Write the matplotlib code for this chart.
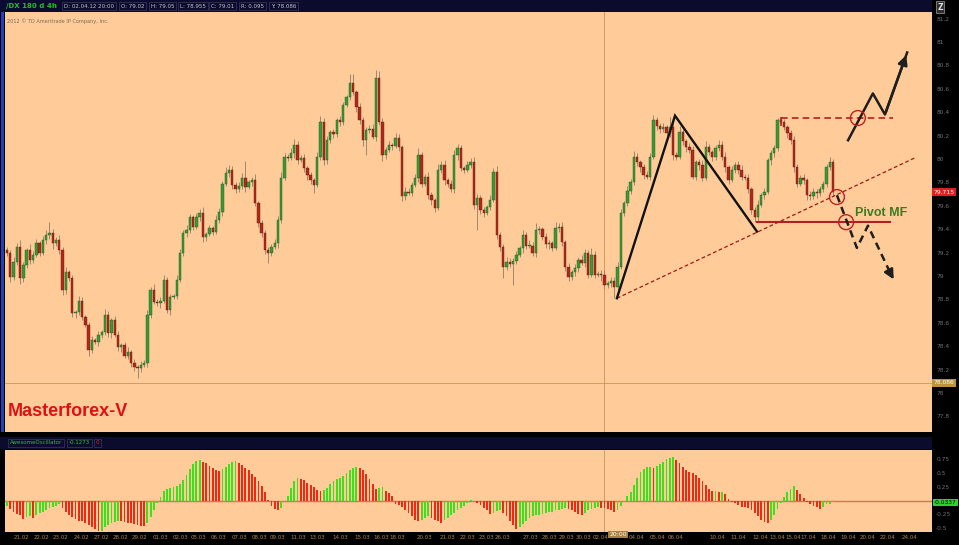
import numpy as np
import matplotlib
matplotlib.use("Agg")
import matplotlib.pyplot as plt
from matplotlib.patches import Rectangle

# ---- /DX 4h candles (open = previous close) ----
open0 = 79.22
closes = [
    79.20, 78.99, 79.12, 79.25, 78.98, 79.09, 79.22, 79.14, 79.18, 79.28,
    79.20, 79.31, 79.35, 79.37, 79.28, 79.31, 79.22, 78.88, 79.03, 78.98,
    78.68, 78.69, 78.79, 78.65, 78.58, 78.37, 78.45, 78.44, 78.50, 78.52,
    78.67, 78.51, 78.62, 78.50, 78.39, 78.41, 78.32, 78.35, 78.26, 78.22,
    78.21, 78.24, 78.26, 78.67, 78.88, 78.78, 78.77, 78.79, 78.97, 78.71,
    78.82, 78.83, 78.97, 79.20, 79.37, 79.39, 79.50, 79.42, 79.50, 79.54,
    79.33, 79.36, 79.41, 79.38, 79.48, 79.55, 79.79, 79.88, 79.91, 79.78,
    79.74, 79.77, 79.84, 79.76, 79.80, 79.82, 79.62, 79.45, 79.37, 79.22,
    79.20, 79.25, 79.28, 79.48, 79.84, 80.02, 80.01, 80.05, 80.12, 79.99,
    80.01, 79.92, 79.86, 79.82, 79.78, 80.02, 80.32, 79.99, 80.16, 80.23,
    80.21, 80.33, 80.32, 80.46, 80.53, 80.65, 80.57, 80.44, 80.33, 80.16,
    80.25, 80.26, 80.19, 80.69, 80.32, 80.03, 80.08, 80.12, 80.11, 80.18,
    80.10, 79.68, 79.72, 79.71, 79.78, 79.84, 80.03, 79.79, 79.85, 79.69,
    79.65, 79.58, 79.91, 79.95, 79.82, 79.79, 79.74, 80.03, 80.09, 79.92,
    79.91, 79.95, 79.97, 79.61, 79.67, 79.56, 79.54, 79.59, 79.65, 79.89,
    79.35, 79.25, 79.08, 79.12, 79.10, 79.13, 79.18, 79.24, 79.35, 79.26,
    79.26, 79.20, 79.39, 79.40, 79.33, 79.27, 79.28, 79.24, 79.41, 79.42,
    79.29, 79.08, 78.99, 79.03, 79.07, 79.14, 79.11, 79.20, 79.01, 79.18,
    79.01, 79.02, 79.01, 78.92, 78.94, 78.96, 78.91, 79.08, 79.54, 79.62,
    79.73, 79.80, 80.02, 79.97, 79.93, 79.86, 79.85, 80.02, 80.33, 80.28,
    80.26, 80.27, 80.22, 80.27, 80.03, 80.02, 80.23, 80.15, 80.10, 80.08,
    79.85, 79.97, 79.95, 79.84, 80.10, 80.06, 80.02, 80.09, 80.12, 80.02,
    79.93, 79.82, 79.91, 79.95, 79.91, 79.85, 79.84, 79.74, 79.56, 79.50,
    79.61, 79.69, 79.72, 79.99, 80.05, 80.09, 80.33, 80.32, 80.27, 80.22,
    80.16, 79.93, 79.79, 79.84, 79.82, 79.69, 79.68, 79.72, 79.71, 79.74,
    79.79, 79.93, 79.97, 79.715]
# wick lengths above / below the body, in 0.01
hi_w = [
    3, 2, 4, 3, 6, 3, 2, 5, 3, 4,   2, 3, 4, 9, 3, 2, 4, 3, 5, 2,
    3, 2, 4, 3, 2, 3, 4, 2, 3, 2,   5, 3, 2, 4, 3, 2, 3, 4, 2, 3,
    2, 3, 2, 4, 3, 5, 2, 3, 4, 2,   3, 2, 4, 3, 2, 5, 3, 2, 4, 3,
    5, 2, 3, 2, 4, 3, 2, 5, 4, 3,   2, 3, 4, 14, 2, 3, 5, 2, 3, 2,
    3, 2, 4, 3, 5, 3, 2, 4, 5, 3,   2, 3, 2, 3, 2, 4, 5, 3, 4, 2,
    3, 2, 4, 3, 2, 8, 8, 2, 4, 3,   2, 3, 4, 7, 6, 3, 2, 3, 2, 4,
    3, 2, 4, 3, 2, 3, 6, 3, 2, 4,   3, 2, 5, 3, 4, 2, 3, 5, 4, 3,
    2, 3, 4, 5, 3, 2, 3, 2, 4, 3,   5, 3, 2, 4, 3, 2, 3, 2, 4, 3,
    5, 3, 6, 3, 2, 4, 3, 2, 5, 3,   4, 2, 3, 2, 3, 2, 4, 3, 2, 6,
    3, 2, 3, 4, 2, 3, 3, 4, 3, 2,   4, 3, 5, 3, 2, 3, 4, 3, 5, 3,
    3, 4, 2, 9, 4, 3, 5, 3, 2, 4,   3, 2, 3, 4, 5, 3, 2, 3, 4, 3,
    4, 2, 3, 2, 3, 4, 2, 3, 2, 3,   4, 2, 3, 2, 3, 3, 2, 3, 2, 2,
    3, 4, 3, 2, 3, 2, 4, 3, 2, 3,   2, 3, 5, 3]
lo_w = [
    3, 4, 2, 3, 5, 3, 2, 4, 3, 2,   3, 2, 4, 3, 5, 2, 3, 4, 3, 2,
    3, 4, 2, 3, 2, 5, 3, 2, 4, 3,   2, 3, 4, 2, 3, 4, 2, 3, 4, 3,
    8, 3, 2, 4, 3, 2, 3, 4, 2, 3,   4, 2, 3, 2, 3, 4, 2, 3, 2, 3,
    4, 3, 2, 3, 2, 3, 4, 2, 3, 4,   3, 2, 3, 4, 2, 3, 2, 3, 4, 3,
    9, 3, 2, 4, 3, 2, 3, 2, 4, 3,   2, 3, 4, 3, 7, 2, 3, 4, 3, 2,
    3, 2, 4, 3, 2, 3, 2, 4, 3, 5,   13, 3, 2, 4, 3, 5, 3, 2, 3, 2,
    3, 4, 3, 2, 3, 2, 4, 3, 2, 3,   4, 3, 2, 3, 4, 3, 2, 3, 4, 2,
    3, 2, 3, 4, 22, 3, 4, 2, 3, 2,  3, 4, 10, 3, 2, 18, 3, 2, 4, 3,
    2, 3, 4, 3, 2, 3, 4, 3, 2, 3,   3, 4, 3, 2, 3, 4, 2, 3, 3, 2,
    3, 2, 5, 3, 2, 3, 10, 3, 2, 3,  2, 3, 2, 3, 4, 3, 2, 3, 2, 3,
    4, 3, 2, 3, 4, 3, 2, 3, 4, 3,   2, 3, 4, 3, 2, 3, 4, 3, 2, 3,
    4, 3, 2, 3, 4, 3, 2, 3, 3, 4,   3, 2, 3, 2, 4, 3, 2, 3, 2, 4,
    3, 4, 3, 2, 3, 4, 3, 2, 4, 3,   2, 3, 2, 3]
# Awesome Oscillator bars
ao = [
    -0.09, -0.15, -0.21, -0.24, -0.27, -0.34, -0.30, -0.29, -0.32, -0.27,
    -0.23, -0.20, -0.17, -0.14, -0.11, -0.09, -0.07, -0.13, -0.20, -0.26,
    -0.30, -0.34, -0.37, -0.38, -0.41, -0.45, -0.49, -0.52, -0.56, -0.55,
    -0.49, -0.45, -0.41, -0.39, -0.37, -0.38, -0.39, -0.40, -0.41, -0.43,
    -0.44, -0.46, -0.47, -0.40, -0.30, -0.18, -0.04, 0.06, 0.17, 0.21,
    0.23, 0.24, 0.26, 0.30, 0.38, 0.47, 0.57, 0.67, 0.73, 0.74,
    0.71, 0.68, 0.64, 0.60, 0.56, 0.54, 0.57, 0.62, 0.67, 0.71,
    0.715, 0.68, 0.65, 0.60, 0.55, 0.49, 0.43, 0.35, 0.27, 0.16,
    0.01, -0.09, -0.15, -0.18, -0.14, -0.03, 0.09, 0.23, 0.35, 0.41,
    0.40, 0.37, 0.32, 0.28, 0.24, 0.19, 0.17, 0.20, 0.23, 0.30,
    0.35, 0.39, 0.42, 0.45, 0.50, 0.55, 0.59, 0.62, 0.60, 0.55,
    0.48, 0.40, 0.30, 0.22, 0.235, 0.245, 0.18, 0.13, 0.085, -0.06,
    -0.085, -0.12, -0.17, -0.23, -0.29, -0.35, -0.38, -0.35, -0.32, -0.29,
    -0.32, -0.35, -0.38, -0.40, -0.35, -0.31, -0.26, -0.22, -0.18, -0.13,
    -0.09, -0.05, 0.01, -0.01, -0.04, -0.085, -0.13, -0.18, -0.24, -0.22,
    -0.19, -0.18, -0.23, -0.29, -0.37, -0.44, -0.52, -0.49, -0.43, -0.37,
    -0.32, -0.29, -0.27, -0.26, -0.24, -0.23, -0.21, -0.20, -0.18, -0.17,
    -0.15, -0.13, -0.15, -0.18, -0.21, -0.24, -0.27, -0.22, -0.18, -0.16,
    -0.14, -0.12, -0.127, -0.13, -0.16, -0.18, -0.20, -0.17, -0.09, -0.03,
    0.09, 0.15, 0.29, 0.41, 0.52, 0.58, 0.61, 0.62, 0.60, 0.64,
    0.67, 0.71, 0.75, 0.78, 0.79, 0.74, 0.69, 0.62, 0.56, 0.52,
    0.50, 0.47, 0.41, 0.35, 0.29, 0.21, 0.17, 0.18, 0.15, 0.16,
    0.12, 0.02, -0.03, -0.05, -0.085, -0.11, -0.12, -0.13, -0.17, -0.23,
    -0.29, -0.35, -0.39, -0.41, -0.35, -0.26, -0.16, -0.05, 0.06, 0.16,
    0.22, 0.26, 0.20, 0.12, 0.05, -0.02, -0.06, -0.09, -0.11, -0.15,
    -0.12, -0.07, -0.06, -0.034]

date_labels = ["21.02", "22.02", "23.02", "24.02", "27.02", "28.02", "29.02", "01.03",
               "02.03", "05.03", "06.03", "07.03", "08.03", "09.03", "11.03", "13.03",
               "14.03", "15.03", "16.03", "18.03", "20.03", "21.03", "22.03", "23.03",
               "26.03", "27.03", "28.03", "29.03", "30.03", "02.04", "04.04", "05.04",
               "06.04", "10.04", "11.04", "12.04", "13.04", "15.04", "17.04", "18.04",
               "19.04", "20.04", "22.04", "24.04"]
date_idx = [4.6, 10.7, 16.5, 22.7, 28.8, 34.9, 40.7, 46.9, 53.0, 58.8, 64.9, 71.1,
            77.2, 83.0, 89.1, 94.9, 102.0, 108.7, 114.7, 119.6, 128.0, 134.8, 141.2,
            146.8, 151.8, 160.2, 166.2, 171.5, 176.7, 181.7, 192.9, 199.3, 204.8,
            217.5, 223.9, 230.6, 235.9, 240.9, 245.3, 251.5, 257.6, 263.7, 269.8, 276.3]

cursor_i = 182.9          # 02.04.12 20:00
last_price = 79.715
prev_close = 78.086
ao_cursor, ao_last = -0.1273, -0.0337

# analyst drawings (candle index, price)
zig_i, zig_p = [186.8, 204.6, 229.7], [78.81, 80.37, 79.38]
trend_i, trend_p = [186.8, 278.1], [78.81, 80.01]
pivot_i, pivot_p = [229.7, 270.4], 79.46
res_i, res_p = [237.1, 271.4], 80.35
circ_i, circ_p = [260.6, 254.2, 257.0], [80.35, 79.675, 79.46]
up_i, up_p = [257.6, 265.2, 268.9, 275.7], [80.16, 80.56, 80.38, 80.91]
dn_i, dn_p = [254.2, 260.3, 263.7, 272.0], [79.69, 79.24, 79.43, 78.95]

# ---- layout helpers (pixels of the 959x545 picture) ----
W, H = 959, 545
def fx(p): return p / W
def fy(p): return 1 - p / H

PEACH = "#ffcc99"; NAVY = "#0b0b2e"; BLACK = "#000000"
GRN, GRN_E = "#3a9a35", "#1d5a1b"
RED, RED_E = "#b02a1a", "#6a1a10"

fig = plt.figure(figsize=(W / 100, H / 100), dpi=100, facecolor=BLACK)

ax = fig.add_axes([fx(5), fy(432), fx(932) - fx(5), fy(12) - fy(432)], facecolor=PEACH)
axo = fig.add_axes([fx(5), fy(532), fx(932) - fx(5), fy(450) - fy(532)], facecolor=PEACH)
xlim = ((5 - 7) / 3.265, (932 - 7) / 3.265)
for a in (ax, axo):
    a.set_xlim(*xlim)
    for s in a.spines.values():
        s.set_visible(False)
ax.set_ylim(77.667, 81.256)
axo.set_ylim(-0.573, 0.923)

# candles
c = np.array(closes)
o = np.r_[open0, c[:-1]]
idx = np.arange(len(c))
hi = np.maximum(o, c) + np.array(hi_w) / 100
lo = np.minimum(o, c) - np.array(lo_w) / 100
upc = c >= o
body = c - o
body = np.where(np.abs(body) < 0.008, np.where(upc, 0.008, -0.008), body)
ax.vlines(idx, lo, hi, color="#8c7c6c", lw=0.6, zorder=2)
ax.bar(idx, body, bottom=o, width=0.72, color=np.where(upc, GRN, RED),
       edgecolor=np.where(upc, GRN_E, RED_E), linewidth=0.3, zorder=3)

# crosshair / reference lines
ax.axhline(prev_close, color="#c8965a", lw=0.6, zorder=1)
for a in (ax, axo):
    a.axvline(cursor_i, color="#c8965a", lw=0.6, zorder=1)

# drawings
ax.plot(trend_i, trend_p, color="#a01818", lw=0.9, dashes=(3, 2), zorder=5)
ax.plot(zig_i, zig_p, color="#111111", lw=1.7, solid_joinstyle="miter", zorder=6)
ax.plot(pivot_i, [pivot_p] * 2, color="#b02020", lw=1.5, zorder=5)
ax.plot(res_i, [res_p] * 2, color="#b02020", lw=1.2, dashes=(4, 2.5), zorder=5)
ax.plot([res_i[0]] * 2, [res_p, res_p - 0.06], color="#b02020", lw=1.2, zorder=5)
ax.scatter(circ_i, circ_p, s=115, facecolors="none", edgecolors="#c02020", lw=1.0, zorder=7)
ax.plot(up_i, up_p, color="#1e1e1e", lw=1.8, zorder=6)
ax.annotate("", xy=(up_i[-1], up_p[-1]), xytext=(up_i[-2], up_p[-2]),
            arrowprops=dict(arrowstyle="-|>", color="#1e1e1e", lw=1.8, mutation_scale=14), zorder=6)
ax.plot(dn_i[:-1] + [dn_i[-1] - 1.2], dn_p[:-1] + [dn_p[-1] + 0.06], color="#1e1e1e", lw=1.8,
        dashes=(3, 2), zorder=6)
ax.annotate("", xy=(dn_i[-1], dn_p[-1]), xytext=(dn_i[-1] - 1.5, dn_p[-1] + 0.075),
            arrowprops=dict(arrowstyle="-|>", color="#1e1e1e", lw=1.8, mutation_scale=14), zorder=6)
ax.text(259.7, 79.54, "Pivot MF", color="#3d7a1e", fontsize=9, fontweight="bold",
        family="Liberation Sans", ha="left", va="center", zorder=8)
ax.text(0.003, 0.05, "Masterforex-V", transform=ax.transAxes, color="#e01010", fontsize=13,
        fontweight="bold", family="Liberation Sans", ha="left", va="center")
ax.text(0.002, 0.985, "2012 \u00a9 TD Ameritrade IP Company, Inc.", transform=ax.transAxes,
        color="#7a6a5a", fontsize=3.6, ha="left", va="top")

# right price axis
ax.yaxis.tick_right()
yt = np.round(np.arange(77.8, 81.21, 0.2), 1)
ax.set_yticks(yt)
ax.set_yticklabels([f"{v:g}" for v in yt])
ax.tick_params(axis="y", length=0, pad=3, labelsize=4.2, labelcolor="#707070")
ax.set_xticks([])
ax.text(1.002, last_price, f"{last_price:.3f}", transform=ax.get_yaxis_transform(), fontsize=4.3,
        color="white", ha="left", va="center",
        bbox=dict(boxstyle="square,pad=0.25", fc="#e02020", ec="none"))
ax.text(1.002, prev_close, f"{prev_close:.3f}", transform=ax.get_yaxis_transform(), fontsize=4.3,
        color="white", ha="left", va="center",
        bbox=dict(boxstyle="square,pad=0.25", fc="#c09040", ec="none"))

# awesome oscillator
av = np.array(ao)
rise = np.r_[True, av[1:] > av[:-1]]
axo.bar(idx, av, width=0.55, color=np.where(rise, "#3ee01e", "#ee2a14"), linewidth=0, zorder=3)
axo.axhline(0, color="#e07050", lw=1.0, zorder=2)
axo.yaxis.tick_right()
axo.set_yticks([0.75, 0.5, 0.25, -0.25, -0.5])
axo.set_yticklabels(["0.75", "0.5", "0.25", "-0.25", "-0.5"])
axo.tick_params(axis="y", length=0, pad=3, labelsize=4.2, labelcolor="#707070")
axo.set_xticks(date_idx)
axo.set_xticklabels(date_labels)
axo.tick_params(axis="x", length=0, pad=2.5, labelsize=4.0, labelcolor="#b08848")
axo.text(1.002, ao_last, f"{ao_last:.4f}", transform=axo.get_yaxis_transform(), fontsize=4.3,
         color="black", ha="left", va="center",
         bbox=dict(boxstyle="square,pad=0.2", fc="#30d030", ec="none"))
axo.text(cursor_i + 4.3, -0.573, "20:00", transform=axo.transData, fontsize=4.4, color="white",
         ha="center", va="top", clip_on=False, zorder=9,
         bbox=dict(boxstyle="square,pad=0.15", fc="#a88040", ec="none"))

# frame pieces: header bars, left border
fig.patches.append(Rectangle((0, fy(12)), fx(932), fy(0) - fy(12), transform=fig.transFigure,
                             fc=NAVY, ec="none", zorder=0))
fig.patches.append(Rectangle((0, fy(449)), fx(932), fy(437) - fy(449), transform=fig.transFigure,
                             fc=NAVY, ec="none", zorder=0))
fig.patches.append(Rectangle((fx(1), fy(432)), fx(3), fy(12) - fy(432), transform=fig.transFigure,
                             fc="#2040c0", ec="none", zorder=0))

box = dict(boxstyle="square,pad=0.3", fc=NAVY, ec="#3a3a60", lw=0.5)
fig.text(fx(6), fy(6), "/DX 180 d 4h", color="#22c022", fontsize=5, fontweight="bold",
         ha="left", va="center")
fields = ["D: 02.04.12 20:00", "O: 79.02", "H: 79.05", "L: 78.955", "C: 79.01", "R: 0.095", "Y: 78.086"]
field_x = [64, 121, 151, 180, 211, 241, 271]
for t, xp in zip(fields, field_x):
    fig.text(fx(xp), fy(6), t, color="#c8c8c8", fontsize=4, ha="left", va="center", bbox=box)
fig.text(fx(940), fy(7), "Z", color="#e0e0e0", fontsize=5.5, fontweight="bold", ha="center",
         va="center", bbox=dict(boxstyle="square,pad=0.2", fc="#303030", ec="#a0a0a0", lw=0.5))

fig.text(fx(10), fy(443), "AwesomeOscillator", color="#30c030", fontsize=4, ha="left", va="center", bbox=box)
fig.text(fx(69), fy(443), f"{ao_cursor:.4f}", color="#30c030", fontsize=4, ha="left", va="center", bbox=box)
fig.text(fx(96), fy(443), "0", color="#e02020", fontsize=4, ha="left", va="center", bbox=box)

fig.savefig("out.png", dpi=100, facecolor=BLACK)
